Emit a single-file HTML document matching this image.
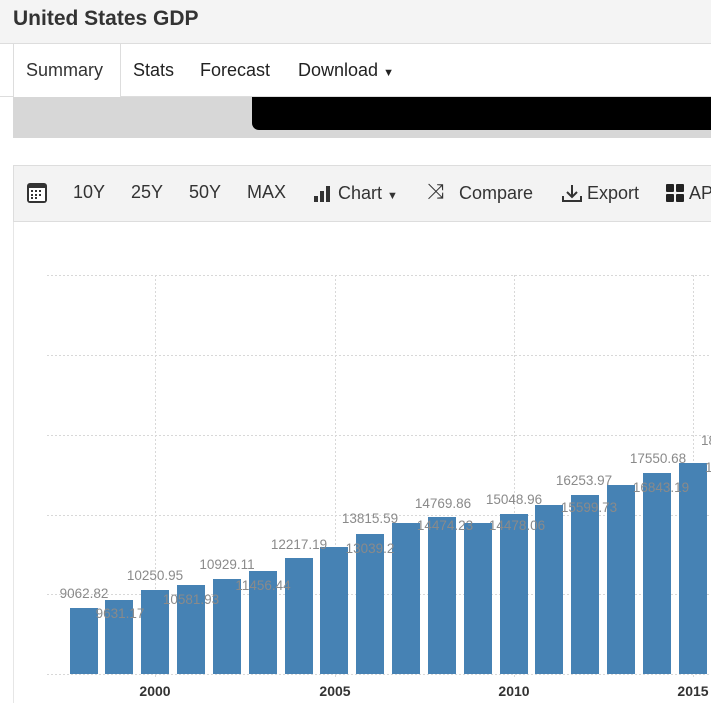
<!DOCTYPE html>
<html><head><meta charset="utf-8"><style>
*{margin:0;padding:0;box-sizing:border-box}
body{width:711px;height:703px;overflow:hidden;background:#fff;font-family:"Liberation Sans",sans-serif;position:relative}
.abs{position:absolute}
</style></head><body>
<div class="abs" style="left:0;top:0;width:711px;height:44px;background:#f4f4f4;border-bottom:1px solid #ddd"></div>
<div class="abs" style="left:13px;top:7px;font-size:21px;font-weight:bold;color:#333">United States GDP</div>
<div class="abs" style="left:0;top:96px;width:13px;height:1px;background:#ddd"></div>
<div class="abs" style="left:13px;top:44px;width:108px;height:54px;background:#fff;border-left:1px solid #ddd;border-right:1px solid #ddd"></div>
<div class="abs" style="left:121px;top:96px;width:590px;height:1px;background:#ddd"></div>
<div class="abs" style="left:26px;top:60px;font-size:18px;color:#333">Summary</div>
<div class="abs" style="left:133px;top:60px;font-size:18px;color:#222">Stats</div>
<div class="abs" style="left:200px;top:60px;font-size:18px;color:#222">Forecast</div>
<div class="abs" style="left:298px;top:60px;font-size:18px;color:#222">Download <span style="font-size:11px">▼</span></div>
<div class="abs" style="left:13px;top:97px;width:698px;height:41px;background:#d7d7d7"></div>
<div class="abs" style="left:252px;top:97px;width:459px;height:33px;background:#000;border-bottom-left-radius:7px"></div>
<div class="abs" style="left:13px;top:165px;width:698px;height:57px;background:#f3f3f3;border:1px solid #ddd;border-right:none"></div>
<div class="abs" style="left:13px;top:222px;width:1px;height:481px;background:#e6e6e6"></div>
<svg class="abs" style="left:26px;top:182px" width="22" height="22"><rect x="1" y="1" width="20" height="20" rx="3" fill="#333"/><rect x="3" y="6" width="16" height="13" fill="#fff"/><g fill="#333"><rect x="5" y="8" width="2" height="2"/><rect x="9" y="8" width="2" height="2"/><rect x="13" y="8" width="2" height="2"/><rect x="5" y="12" width="2" height="2"/><rect x="9" y="12" width="2" height="2"/><rect x="13" y="12" width="2" height="2"/><rect x="5" y="15" width="2" height="2"/><rect x="9" y="15" width="2" height="2"/></g></svg>
<div class="abs" style="left:73px;top:182px;font-size:18px;color:#333">10Y</div>
<div class="abs" style="left:131px;top:182px;font-size:18px;color:#333">25Y</div>
<div class="abs" style="left:189px;top:182px;font-size:18px;color:#333">50Y</div>
<div class="abs" style="left:247px;top:182px;font-size:18px;color:#333">MAX</div>
<svg class="abs" style="left:313px;top:185px" width="20" height="18"><rect x="1" y="11" width="4" height="6" fill="#333"/><rect x="7" y="6" width="4" height="11" fill="#333"/><rect x="13" y="1" width="4" height="16" fill="#333"/></svg>
<div class="abs" style="left:338px;top:183px;font-size:18px;color:#333">Chart <span style="font-size:11px">▼</span></div>
<div class="abs" style="left:427px;top:180px;font-size:21px;color:#333">⤨</div>
<div class="abs" style="left:459px;top:183px;font-size:18px;color:#333">Compare</div>
<svg class="abs" style="left:561px;top:183px" width="22" height="20"><path d="M11 2v12M6 9l5 5 5-5M2 13v5h18v-5" stroke="#333" stroke-width="2" fill="none"/></svg>
<div class="abs" style="left:587px;top:183px;font-size:18px;color:#333">Export</div>
<svg class="abs" style="left:666px;top:184px" width="20" height="20"><g fill="#222"><rect x="0" y="0" width="8" height="8" rx="1"/><rect x="10" y="0" width="8" height="8" rx="1"/><rect x="0" y="10" width="8" height="8" rx="1"/><rect x="10" y="10" width="8" height="8" rx="1"/></g></svg>
<div class="abs" style="left:689px;top:183px;font-size:18px;color:#333">AP</div>
<svg class="abs" style="left:0;top:0" width="711" height="703">
<g stroke="#d8d8d8" stroke-width="1" stroke-dasharray="2,2">
<line x1="47" y1="275.5" x2="711" y2="275.5"/><line x1="47" y1="355.5" x2="711" y2="355.5"/><line x1="47" y1="435.5" x2="711" y2="435.5"/><line x1="47" y1="515.5" x2="711" y2="515.5"/><line x1="47" y1="594.5" x2="711" y2="594.5"/><line x1="47" y1="674.5" x2="711" y2="674.5"/>
<line x1="155.5" y1="275" x2="155.5" y2="678"/><line x1="335.5" y1="275" x2="335.5" y2="678"/><line x1="514.5" y1="275" x2="514.5" y2="678"/><line x1="693.5" y1="275" x2="693.5" y2="678"/>
</g>
<g fill="#4682b4">
<rect x="70" y="608" width="28" height="66"/><rect x="105" y="600" width="28" height="74"/><rect x="141" y="590" width="28" height="84"/><rect x="177" y="585" width="28" height="89"/><rect x="213" y="579" width="28" height="95"/><rect x="249" y="571" width="28" height="103"/><rect x="285" y="558" width="28" height="116"/><rect x="320" y="547" width="28" height="127"/><rect x="356" y="534" width="28" height="140"/><rect x="392" y="523" width="28" height="151"/><rect x="428" y="517" width="28" height="157"/><rect x="464" y="523" width="28" height="151"/><rect x="500" y="514" width="28" height="160"/><rect x="535" y="505" width="28" height="169"/><rect x="571" y="495" width="28" height="179"/><rect x="607" y="485" width="28" height="189"/><rect x="643" y="473" width="28" height="201"/><rect x="679" y="463" width="28" height="211"/>
</g>
<g fill="#8a8a8a" font-size="13.5" text-anchor="middle" font-family="Liberation Sans, sans-serif">
<text x="84" y="598">9062.82</text><text x="120" y="618">9631.17</text><text x="155" y="580">10250.95</text><text x="191" y="604">10581.93</text><text x="227" y="569">10929.11</text><text x="263" y="590">11456.44</text><text x="299" y="549">12217.19</text><text x="370" y="553">13039.2</text><text x="370" y="523">13815.59</text><text x="445" y="530">14474.23</text><text x="443" y="508">14769.86</text><text x="517" y="530">14478.06</text><text x="514" y="504">15048.96</text><text x="589" y="512">15599.73</text><text x="584" y="485">16253.97</text><text x="661" y="492">16843.19</text><text x="658" y="463">17550.68</text><text x="701" y="445" text-anchor="start">18</text><text x="705" y="472" text-anchor="start">1</text>
</g>
<g fill="#333" font-size="14" font-weight="bold" text-anchor="middle" font-family="Liberation Sans, sans-serif">
<text x="155" y="696">2000</text><text x="335" y="696">2005</text><text x="514" y="696">2010</text><text x="693" y="696">2015</text>
</g>
</svg>
</body></html>
